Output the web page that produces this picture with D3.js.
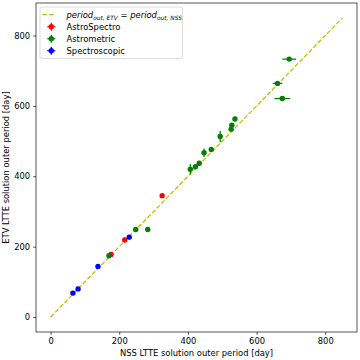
<!DOCTYPE html>
<html>
<head>
<meta charset="utf-8">
<script src="https://cdn.jsdelivr.net/npm/d3@7"></script>
<style>
    body { margin: 0; background: #fff; }
    svg { font-family: "DejaVu Sans", sans-serif; }
</style>
</head>
<body>
<div id="chart"></div>
<script>
// Data: NSS period (x), ETV period (y), error bars in days
const nssAstroSpectro = [176, 216, 325];
const etvAstroSpectro = [178, 219, 345];
const nssAstrometric = [170, 248, 283, 407, 422, 433, 447, 468, 494, 526, 528, 537, 661, 675, 695];
const etvAstrometric = [174, 249, 249, 420, 427, 437, 467, 476, 513, 534, 545, 563, 664, 621, 733];
const xerrAstrometric = [0, 0, 0, 0, 0, 0, 0, 0, 0, 0, 0, 5, 14, 23, 20];
const yerrAstrometric = [0, 0, 0, 15, 0, 0, 12, 0, 16, 0, 0, 0, 0, 0, 0];
const nssSpectroscopic = [65, 80, 138, 229];
const etvSpectroscopic = [68, 80, 144, 227];
const lineRange = [0, 850];
const tickValues = [0, 200, 400, 600, 800];

const groups = [
    {name: "AstroSpectro", colour: "#ff0000", x: nssAstroSpectro, y: etvAstroSpectro},
    {name: "Astrometric", colour: "#008000", x: nssAstrometric, y: etvAstrometric, xerr: xerrAstrometric, yerr: yerrAstrometric},
    {name: "Spectroscopic", colour: "#0000ff", x: nssSpectroscopic, y: etvSpectroscopic}
];

const margin = {top: 3, right: 3, bottom: 28, left: 36};
const width = 360 - margin.left - margin.right,
    height = 360 - margin.top - margin.bottom;
const fontSize = 8.4;

const svg = d3.select("#chart")
    .append("svg")
    .attr("width", 360)
    .attr("height", 360);

const g = svg.append("g")
    .attr("transform", `translate(${margin.left},${margin.top})`);

// matplotlib default 5% margins around [0, 850]
const pad = (lineRange[1] - lineRange[0]) * 0.05;
const x = d3.scaleLinear().domain([lineRange[0] - pad, lineRange[1] + pad]).range([0, width]);
const y = d3.scaleLinear().domain([lineRange[0] - pad, lineRange[1] + pad]).range([height, 0]);

// 1:1 line
g.append("line")
    .attr("x1", x(lineRange[0])).attr("y1", y(lineRange[0]))
    .attr("x2", x(lineRange[1])).attr("y2", y(lineRange[1]))
    .attr("stroke", "#bfbf00")
    .attr("stroke-width", 1.25)
    .attr("stroke-dasharray", "4.6,2");

// Points with error bars
groups.forEach(grp => {
    const pts = grp.x.map((v, i) => ({
        x: v, y: grp.y[i],
        xe: grp.xerr ? grp.xerr[i] : 0,
        ye: grp.yerr ? grp.yerr[i] : 0
    }));
    const layer = g.append("g");
    layer.selectAll("line.xe")
        .data(pts.filter(d => d.xe > 0))
        .join("line")
        .attr("x1", d => x(d.x - d.xe)).attr("x2", d => x(d.x + d.xe))
        .attr("y1", d => y(d.y)).attr("y2", d => y(d.y))
        .attr("stroke", grp.colour).attr("stroke-width", 1.25);
    layer.selectAll("line.ye")
        .data(pts.filter(d => d.ye > 0))
        .join("line")
        .attr("x1", d => x(d.x)).attr("x2", d => x(d.x))
        .attr("y1", d => y(d.y - d.ye)).attr("y2", d => y(d.y + d.ye))
        .attr("stroke", grp.colour).attr("stroke-width", 1.25);
    layer.selectAll("circle")
        .data(pts)
        .join("circle")
        .attr("cx", d => x(d.x))
        .attr("cy", d => y(d.y))
        .attr("r", 2.7)
        .attr("fill", grp.colour);
});

// Axes
const xAxis = g.append("g")
    .attr("transform", `translate(0,${height})`)
    .call(d3.axisBottom(x).tickValues(tickValues).tickSizeOuter(0).tickSize(2.9).tickPadding(2.9));
const yAxis = g.append("g")
    .call(d3.axisLeft(y).tickValues(tickValues).tickSizeOuter(0).tickSize(2.9).tickPadding(2.9));
[xAxis, yAxis].forEach(a => {
    a.selectAll("text").attr("font-size", fontSize).attr("fill", "#000").attr("font-family", "DejaVu Sans");
    a.selectAll("line").attr("stroke", "#000").attr("stroke-width", 0.67);
    a.select(".domain").remove();
});

// Frame
g.append("rect")
    .attr("width", width).attr("height", height)
    .attr("fill", "none").attr("stroke", "#000").attr("stroke-width", 0.67);

// Axis labels
svg.append("text")
    .attr("x", margin.left + width / 2)
    .attr("y", 356)
    .attr("text-anchor", "middle")
    .attr("font-size", fontSize)
    .text("NSS LTTE solution outer period [day]");
svg.append("text")
    .attr("transform", `translate(8.5,${margin.top + height / 2}) rotate(-90)`)
    .attr("text-anchor", "middle")
    .attr("font-size", fontSize)
    .text("ETV LTTE solution outer period [day]");

// Legend
const legend = svg.append("g").attr("transform", "translate(40,7)");
legend.append("rect")
    .attr("width", 142.5).attr("height", 51.5)
    .attr("rx", 2).attr("ry", 2)
    .attr("fill", "#fff").attr("fill-opacity", 0.8)
    .attr("stroke", "#ccc").attr("stroke-width", 0.67);

legend.append("line")
    .attr("x1", 2.5).attr("x2", 15.5)
    .attr("y1", 7.7).attr("y2", 7.7)
    .attr("stroke", "#bfbf00").attr("stroke-width", 1.25)
    .attr("stroke-dasharray", "4.6,2");
const title = legend.append("text")
    .attr("x", 26.5).attr("y", 10.5)
    .attr("font-size", fontSize);
title.append("tspan").attr("font-style", "italic").text("period");
title.append("tspan").attr("font-style", "italic").attr("font-size", fontSize * 0.7).attr("dy", 2).text("out, ETV");
title.append("tspan").attr("dy", -2).text(" = ");
title.append("tspan").attr("font-style", "italic").text("period");
title.append("tspan").attr("font-style", "italic").attr("font-size", fontSize * 0.7).attr("dy", 2).text("out, NSS");

groups.forEach((grp, i) => {
    const cy = 19.7 + i * 12;
    const item = legend.append("g");
    item.append("line")
        .attr("x1", 11.3 - 4).attr("x2", 11.3 + 4)
        .attr("y1", cy).attr("y2", cy)
        .attr("stroke", grp.colour).attr("stroke-width", 1.25);
    item.append("line")
        .attr("x1", 11.3).attr("x2", 11.3)
        .attr("y1", cy - 4).attr("y2", cy + 4)
        .attr("stroke", grp.colour).attr("stroke-width", 1.25);
    item.append("circle")
        .attr("cx", 11.3).attr("cy", cy).attr("r", 2.7)
        .attr("fill", grp.colour);
    item.append("text")
        .attr("x", 26.5).attr("y", cy + 3)
        .attr("font-size", fontSize)
        .text(grp.name);
});
</script>
</body>
</html>
